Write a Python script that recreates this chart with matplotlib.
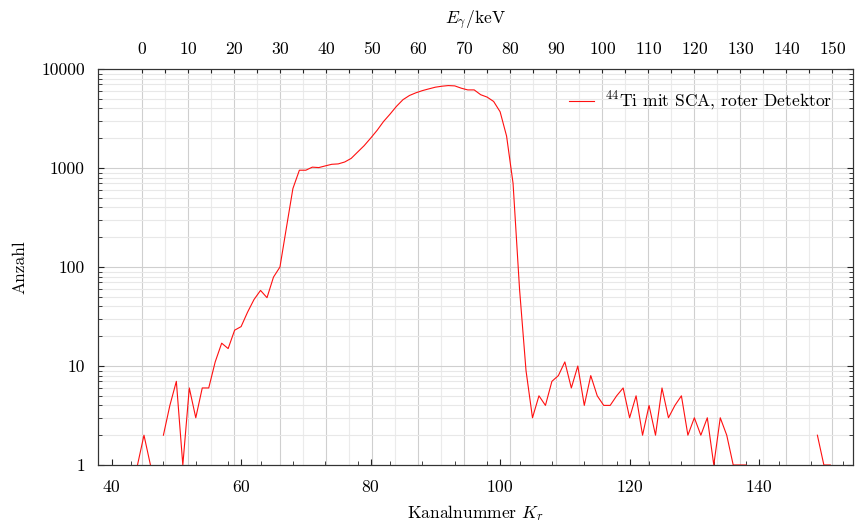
import numpy as np
import matplotlib
matplotlib.use("Agg")
import matplotlib.pyplot as plt
from matplotlib.ticker import FixedLocator, NullFormatter, LogLocator

plt.rcParams['font.family'] = 'serif'
plt.rcParams['font.serif'] = ['cmr10', 'DejaVu Serif']
plt.rcParams['mathtext.fontset'] = 'cm'
plt.rcParams['axes.formatter.use_mathtext'] = True
plt.rcParams['font.size'] = 12.6

# channel numbers and counts (0 = no counts, not drawn on log scale)
channels = np.arange(38, 156)
counts = [0, 0, 0, 0, 0, 0,
          1, 2, 1, 0, 2, 4, 7, 1, 6, 3, 6, 6, 11, 17, 15, 23, 25, 35, 47, 58, 49, 79, 100,
          250, 620, 950, 950, 1020, 1010, 1050, 1090, 1100, 1150, 1250, 1450, 1680, 2000,
          2400, 2950, 3500, 4200, 4900, 5400, 5750, 6050, 6300, 6550, 6700, 6800, 6750,
          6400, 6150, 6150, 5500, 5200, 4700, 3700, 2100, 700, 60, 9,
          3, 5, 4, 7, 8, 11, 6, 10, 4, 8, 5, 4, 4, 5, 6, 3, 5, 2, 4, 2, 6, 3, 4, 5,
          2, 3, 2, 3, 1, 3, 2, 1, 1, 1,
          0, 0, 0, 0, 0, 0, 0, 0, 0, 0,
          2, 1, 1, 0, 0, 0, 0]
counts = np.array(counts, dtype=float)

# energy calibration E = gain * (K - k0)
gain = 1.4075
k0 = 44.76
xmin, xmax = 37.9, 154.5

energy_major = np.arange(0, 151, 10)
energy_minor = np.arange(5, 151, 10)
ytick_vals = [1, 10, 100, 1000, 10000]
ytick_labels = ['1', '10', '100', '1000', '10000']

fig = plt.figure(figsize=(8.55, 5.24), dpi=100)
ax = fig.add_axes([98 / 855, 1 - 465 / 524, 755 / 855, 396 / 524])

# background axis carrying the energy scale and vertical grid
ax2 = ax.twiny()
ax.set_zorder(ax2.get_zorder() + 1)
ax.patch.set_visible(False)

y = np.ma.masked_less_equal(counts, 0)
ax.plot(channels, y, color='#ff1010', lw=0.8, label=r'$^{44}$Ti mit SCA, roter Detektor')

ax.set_yscale('log')
ax.set_ylim(1, 10000)
ax.set_xlim(xmin, xmax)

ax.set_xticks([40, 60, 80, 100, 120, 140])
ax.xaxis.set_minor_locator(FixedLocator(np.arange(43, 155, 5)))
ax.set_yticks(ytick_vals)
ax.set_yticklabels(ytick_labels)
ax.yaxis.set_minor_locator(LogLocator(base=10, subs=np.arange(2, 10)))
ax.yaxis.set_minor_formatter(NullFormatter())

ax.tick_params(axis='x', which='both', direction='in', top=False, bottom=True, color='#222222')
ax.tick_params(axis='y', which='both', direction='in', left=True, right=True, color='#222222')
ax.tick_params(which='major', length=4.3, width=0.8)
ax.tick_params(which='minor', length=2.8, width=0.6)
ax.tick_params(axis='x', which='major', pad=10)
ax.tick_params(axis='y', which='major', pad=9.5)

ax.grid(True, axis='y', which='major', color='#cfcfcf', lw=0.8)
ax.grid(True, axis='y', which='minor', color='#e8e8e8', lw=0.8)

ax2.set_xlim(gain * (xmin - k0), gain * (xmax - k0))
ax2.set_xticks(energy_major)
ax2.set_xticks(energy_minor, minor=True)
ax2.tick_params(axis='x', which='both', direction='in', color='#222222', top=True, bottom=False)
ax2.tick_params(which='major', length=2.8, width=0.8, pad=9)
ax2.tick_params(which='minor', length=2.8, width=0.8)
ax2.grid(True, which='major', color='#cfcfcf', lw=0.8)
ax2.grid(True, which='minor', color='#ebebeb', lw=0.8)
ax2.set_xlabel(r'$E_\gamma/\mathrm{keV}$', labelpad=11)

for a in (ax, ax2):
    for s in a.spines.values():
        s.set_color('#333333')
        s.set_linewidth(0.8)

ax.set_xlabel(r'Kanalnummer $K_r$', labelpad=5.5)
ax.set_ylabel('Anzahl', labelpad=10)

ax.legend(loc='upper right', frameon=False, handlelength=1.45, handletextpad=0.6,
          borderaxespad=0.8)

fig.savefig('out.png', dpi=100)
